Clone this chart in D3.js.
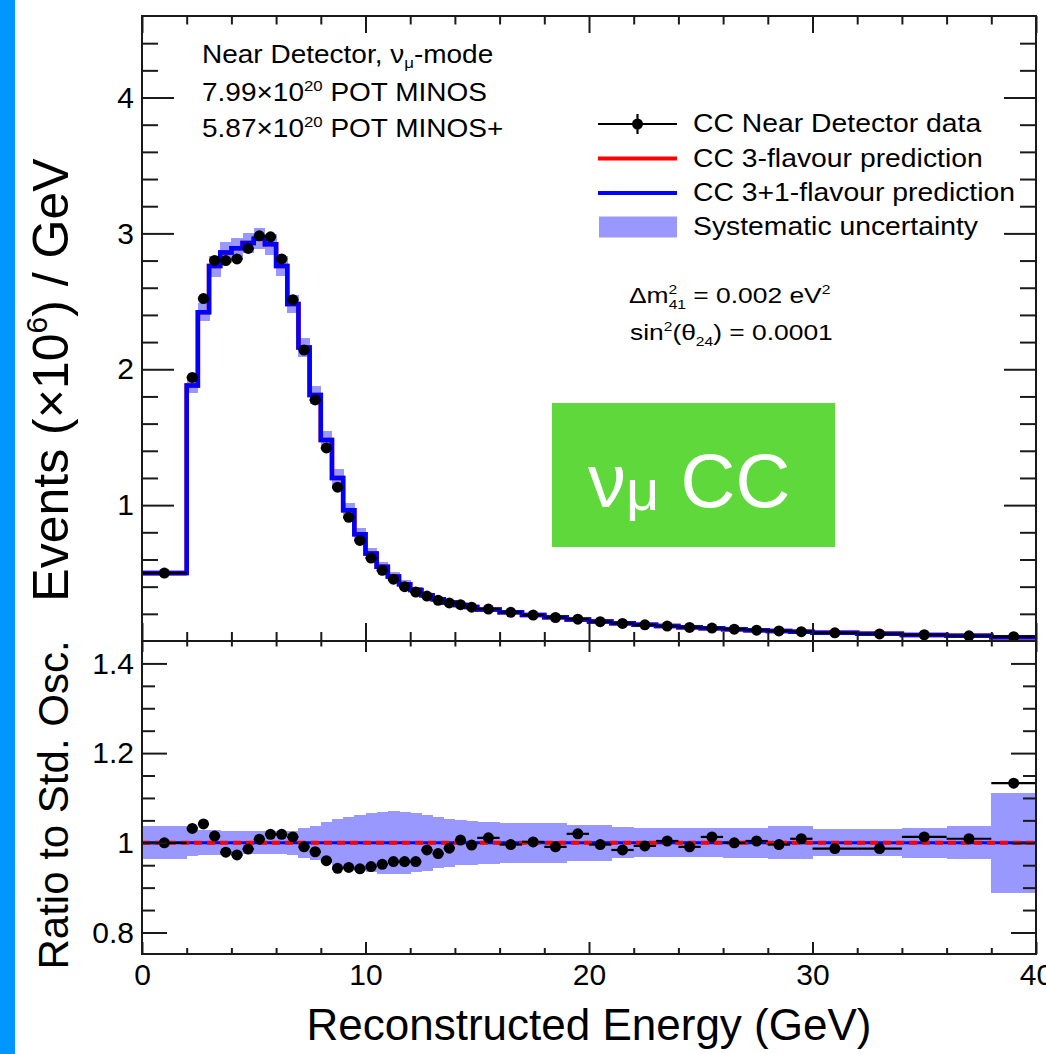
<!DOCTYPE html>
<html>
<head>
<meta charset="utf-8">
<script src="https://cdn.jsdelivr.net/npm/d3@7"></script>
<style>
  body { margin: 0; background: #fff }
  svg { display: block }
  text { font-family: "Liberation Sans", Arial, Helvetica, sans-serif; fill: #000 }
</style>
</head>
<body>
<svg id="chart" width="1046" height="1054"></svg>
<script>
// Bin edges in GeV (variable binning)
const binEdges = [0, 2, 2.5, 3, 3.5, 4, 4.5, 5, 5.5, 6, 6.5, 7, 7.5, 8, 8.5, 9, 9.5, 10,
  10.5, 11, 11.5, 12, 12.5, 13, 13.5, 14, 14.5, 15, 16, 17, 18, 19, 20, 21, 22, 23, 24,
  25, 26, 27, 28, 29, 30, 32, 34, 36, 38, 40]

// Events (x10^6) / GeV, 3-flavour and 3+1 predictions (overlapping)
const predicted = [0.50, 1.88, 2.42, 2.76, 2.86, 2.89, 2.93, 2.96, 2.92, 2.76, 2.48, 2.16,
  1.81, 1.48, 1.20, 0.963, 0.786, 0.644, 0.546, 0.475, 0.418, 0.376, 0.336, 0.307, 0.284,
  0.265, 0.250, 0.232, 0.212, 0.191, 0.175, 0.158, 0.143, 0.131, 0.120, 0.110, 0.101,
  0.094, 0.087, 0.080, 0.074, 0.068, 0.061, 0.053, 0.045, 0.038, 0.028]

// Near Detector data, events (x10^6) / GeV
const dataEvents = [0.500, 1.940, 2.520, 2.801, 2.800, 2.812, 2.889, 2.982, 2.975, 2.812,
  2.512, 2.141, 1.774, 1.421, 1.132, 0.910, 0.740, 0.610, 0.520, 0.455, 0.400, 0.360,
  0.331, 0.300, 0.280, 0.267, 0.249, 0.235, 0.211, 0.191, 0.173, 0.161, 0.142, 0.129,
  0.119, 0.110, 0.100, 0.095, 0.087, 0.080, 0.074, 0.069, 0.060, 0.052, 0.046, 0.038, 0.032]

// Data / 3-flavour prediction (lower panel)
const ratioToStd = [1.000, 1.032, 1.042, 1.015, 0.979, 0.973, 0.986, 1.008, 1.019, 1.019,
  1.013, 0.991, 0.980, 0.960, 0.943, 0.945, 0.942, 0.947, 0.952, 0.958, 0.958, 0.958,
  0.984, 0.976, 0.988, 1.006, 0.995, 1.011, 0.996, 1.002, 0.991, 1.020, 0.996, 0.984,
  0.993, 1.004, 0.991, 1.013, 1.000, 1.004, 0.996, 1.009, 0.987, 0.987, 1.013, 1.009, 1.133]

// Relative systematic uncertainty (half width of the band)
const systFraction = [0.037, 0.0285, 0.028, 0.028, 0.027, 0.026, 0.026, 0.026, 0.026, 0.026,
  0.027, 0.033, 0.038, 0.046, 0.053, 0.058, 0.062, 0.066, 0.069, 0.070, 0.0685, 0.0655,
  0.062, 0.057, 0.053, 0.050, 0.049, 0.047, 0.045, 0.044, 0.044, 0.040, 0.040, 0.035,
  0.032, 0.032, 0.032, 0.032, 0.034, 0.034, 0.037, 0.037, 0.030, 0.030, 0.033, 0.037, 0.111]

const xMajorTicks = [0, 10, 20, 30, 40]
const yTopMajorTicks = [1, 2, 3, 4]
const yRatioMajorTicks = [0.8, 1, 1.2, 1.4]

const legendLabels = ['CC Near Detector data', 'CC 3-flavour prediction',
  'CC 3+1-flavour prediction', 'Systematic uncertainty']

const colors = { data: '#000', std: '#ff0000', sterile: '#0000ff', band: '#9898ff', axis: '#1a1a1a' }
const frame = { left: 142, right: 1036, top: 16, mid: 641, bottom: 954 }

const svg = d3.select('#chart')

const x = d3.scaleLinear().domain([0, 40]).range([frame.left, frame.right])
const yTop = d3.scaleLinear().domain([0, 4.6]).range([frame.mid, frame.top])
const yRat = d3.scaleLinear().domain([0.752, 1.45]).range([frame.bottom, frame.mid])

const bins = predicted.map((p, i) => ({
  x0: binEdges[i],
  x1: binEdges[i + 1],
  pred: p,
  data: dataEvents[i],
  ratio: ratioToStd[i],
  syst: systFraction[i]
}))

// blue strip on the left edge of the slide
svg.append('rect').attr('x', 0).attr('y', 0).attr('width', 15).attr('height', 1054).attr('fill', '#0096ff')

// clip paths for both pads
const defs = svg.append('defs')
defs.append('clipPath').attr('id', 'clipTop').append('rect')
  .attr('x', frame.left).attr('y', frame.top)
  .attr('width', frame.right - frame.left).attr('height', frame.mid - frame.top)
defs.append('clipPath').attr('id', 'clipRat').append('rect')
  .attr('x', frame.left).attr('y', frame.mid)
  .attr('width', frame.right - frame.left).attr('height', frame.bottom - frame.mid)

function stepLine (yScale, accessor) {
  const pts = bins.map(b => [b.x0, accessor(b)])
  pts.push([bins[bins.length - 1].x1, accessor(bins[bins.length - 1])])
  return d3.line()
    .x(d => x(d[0]))
    .y(d => yScale(d[1]))
    .curve(d3.curveStepAfter)(pts)
}

function drawBand (g, yScale, lo, hi) {
  g.selectAll('rect.band')
    .data(bins)
    .enter()
    .append('rect')
    .attr('class', 'band')
    .attr('x', d => x(d.x0))
    .attr('width', d => x(d.x1) - x(d.x0) + 0.5)
    .attr('y', d => yScale(hi(d)))
    .attr('height', d => yScale(lo(d)) - yScale(hi(d)))
    .attr('fill', colors.band)
    .attr('shape-rendering', 'crispEdges')
}

function drawPoints (g, yScale, accessor) {
  const pts = g.selectAll('g.pt')
    .data(bins)
    .enter()
    .append('g')
    .attr('class', 'pt')
  pts.append('line')
    .attr('x1', d => x(d.x0))
    .attr('x2', d => x(d.x1))
    .attr('y1', d => yScale(accessor(d)))
    .attr('y2', d => yScale(accessor(d)))
    .attr('stroke', colors.data)
    .attr('stroke-width', 2.2)
  pts.append('circle')
    .attr('cx', d => x((d.x0 + d.x1) / 2))
    .attr('cy', d => yScale(accessor(d)))
    .attr('r', 5.5)
    .attr('fill', colors.data)
}

// ---- top pad
const topPad = svg.append('g').attr('clip-path', 'url(#clipTop)')
drawBand(topPad, yTop, d => d.pred * (1 - d.syst), d => d.pred * (1 + d.syst))
topPad.append('path')
  .attr('d', stepLine(yTop, d => d.pred))
  .attr('fill', 'none').attr('stroke', colors.std).attr('stroke-width', 4.5)
topPad.append('path')
  .attr('d', stepLine(yTop, d => d.pred))
  .attr('fill', 'none').attr('stroke', colors.sterile).attr('stroke-width', 4.5)
drawPoints(topPad, yTop, d => d.data)

// ---- ratio pad
const ratPad = svg.append('g').attr('clip-path', 'url(#clipRat)')
drawBand(ratPad, yRat, d => 1 - d.syst, d => 1 + d.syst)
ratPad.append('path')
  .attr('d', stepLine(yRat, d => d.pred / d.pred))
  .attr('fill', 'none').attr('stroke', colors.sterile).attr('stroke-width', 3)
ratPad.append('path')
  .attr('d', stepLine(yRat, d => d.pred / d.pred))
  .attr('fill', 'none').attr('stroke', colors.std).attr('stroke-width', 4)
  .attr('stroke-dasharray', '8,5')
drawPoints(ratPad, yRat, d => d.ratio)

// ---- frames and ticks
svg.append('rect')
  .attr('x', frame.left).attr('y', frame.top)
  .attr('width', frame.right - frame.left).attr('height', frame.bottom - frame.top)
  .attr('fill', 'none').attr('stroke', colors.axis).attr('stroke-width', 2)
svg.append('line')
  .attr('x1', frame.left).attr('x2', frame.right)
  .attr('y1', frame.mid).attr('y2', frame.mid)
  .attr('stroke', colors.axis).attr('stroke-width', 2)

function styleAxis (g) {
  g.select('.domain').remove()
  g.selectAll('.tick line').attr('stroke', colors.axis).attr('stroke-width', 2)
  g.selectAll('.tick text')
    .attr('font-size', 30)
    .attr('font-family', '"Liberation Sans", Arial, Helvetica, sans-serif')
    .attr('fill', '#000')
}

function addAxis (axis, tx, ty) {
  svg.append('g')
    .attr('transform', `translate(${tx},${ty})`)
    .call(axis)
    .call(styleAxis)
}

const xMinor = d3.range(2, 40, 2).filter(v => v % 10 !== 0)
const yTopMinor = d3.range(1, 23).filter(i => i % 5 !== 0).map(i => i / 5)
const yRatMinor = d3.range(16, 29).filter(i => i % 4 !== 0).map(i => i / 20)
const noLabel = () => ''

// top pad
addAxis(d3.axisLeft(yTop).tickValues(yTopMajorTicks).tickSize(-32).tickPadding(8).tickFormat(d3.format('d')), frame.left, 0)
addAxis(d3.axisLeft(yTop).tickValues(yTopMinor).tickSize(-16).tickFormat(noLabel), frame.left, 0)
addAxis(d3.axisRight(yTop).tickValues(yTopMajorTicks).tickSize(-32).tickFormat(noLabel), frame.right, 0)
addAxis(d3.axisRight(yTop).tickValues(yTopMinor).tickSize(-16).tickFormat(noLabel), frame.right, 0)
addAxis(d3.axisTop(x).tickValues(xMajorTicks).tickSize(-17).tickFormat(noLabel), 0, frame.top)
addAxis(d3.axisTop(x).tickValues(xMinor).tickSize(-8.5).tickFormat(noLabel), 0, frame.top)
addAxis(d3.axisBottom(x).tickValues(xMajorTicks).tickSize(-18).tickFormat(noLabel), 0, frame.mid)
addAxis(d3.axisBottom(x).tickValues(xMinor).tickSize(-9).tickFormat(noLabel), 0, frame.mid)

// ratio pad
const ratioFormat = d => (d === 1 ? '1' : d.toFixed(1))
addAxis(d3.axisLeft(yRat).tickValues(yRatioMajorTicks).tickSize(-25).tickPadding(8).tickFormat(ratioFormat), frame.left, 0)
addAxis(d3.axisLeft(yRat).tickValues(yRatMinor).tickSize(-13).tickFormat(noLabel), frame.left, 0)
addAxis(d3.axisRight(yRat).tickValues(yRatioMajorTicks).tickSize(-25).tickFormat(noLabel), frame.right, 0)
addAxis(d3.axisRight(yRat).tickValues(yRatMinor).tickSize(-13).tickFormat(noLabel), frame.right, 0)
addAxis(d3.axisTop(x).tickValues(xMajorTicks).tickSize(-11).tickFormat(noLabel), 0, frame.mid)
addAxis(d3.axisTop(x).tickValues(xMinor).tickSize(-5.5).tickFormat(noLabel), 0, frame.mid)
addAxis(d3.axisBottom(x).tickValues(xMajorTicks).tickSize(-12).tickPadding(10).tickFormat(d3.format('d')), 0, frame.bottom)
addAxis(d3.axisBottom(x).tickValues(xMinor).tickSize(-6).tickFormat(noLabel), 0, frame.bottom)

// ---- axis titles
svg.append('text')
  .attr('x', (frame.left + frame.right) / 2).attr('y', 1040)
  .attr('text-anchor', 'middle').attr('font-size', 44)
  .text('Reconstructed Energy (GeV)')

const yTitle = svg.append('text')
  .attr('transform', 'translate(68,380) rotate(-90)')
  .attr('text-anchor', 'middle').attr('font-size', 50)
yTitle.append('tspan').text('Events (×10')
yTitle.append('tspan').attr('font-size', 30).attr('dy', -21).text('6')
yTitle.append('tspan').attr('dy', 21).text(') / GeV')

svg.append('text')
  .attr('transform', 'translate(68,805) rotate(-90)')
  .attr('text-anchor', 'middle').attr('font-size', 42)
  .text('Ratio to Std. Osc.')

// ---- text blocks (slightly stretched horizontally like the original)
function textBlock (tx, ty, sx, size) {
  return svg.append('g')
    .attr('transform', `translate(${tx},${ty}) scale(${sx},1)`)
    .append('text')
    .attr('font-size', size)
}

const info1 = textBlock(202, 63, 1.12, 25)
info1.append('tspan').text('Near Detector, ν')
info1.append('tspan').attr('font-size', 15).attr('dy', 5).text('μ')
info1.append('tspan').attr('dy', -5).text('-mode')

const potLines = [['7.99', ' POT MINOS', 101], ['5.87', ' POT MINOS+', 137]]
potLines.forEach(([mant, tail, ty]) => {
  const t = textBlock(202, ty, 1.12, 25)
  t.append('tspan').text(mant + '×10')
  t.append('tspan').attr('font-size', 15).attr('dy', -10).text('20')
  t.append('tspan').attr('dy', 10).text(tail)
})

// legend
const legendY = [124, 158.5, 193, 227]
const legend = svg.append('g')
legendLabels.forEach((label, i) => {
  const cy = legendY[i]
  if (i === 0) {
    legend.append('line').attr('x1', 598).attr('x2', 677).attr('y1', cy).attr('y2', cy)
      .attr('stroke', colors.data).attr('stroke-width', 2.2)
    legend.append('line').attr('x1', 637.5).attr('x2', 637.5).attr('y1', cy - 10).attr('y2', cy + 10)
      .attr('stroke', colors.data).attr('stroke-width', 2.2)
    legend.append('circle').attr('cx', 637.5).attr('cy', cy).attr('r', 5.5).attr('fill', colors.data)
  } else if (i < 3) {
    legend.append('line').attr('x1', 598).attr('x2', 677).attr('y1', cy).attr('y2', cy)
      .attr('stroke', i === 1 ? colors.std : colors.sterile).attr('stroke-width', 4)
  } else {
    legend.append('rect').attr('x', 599).attr('y', cy - 10.5).attr('width', 78).attr('height', 21)
      .attr('fill', colors.band)
  }
  textBlock(693, cy + 8, 1.09, 26).text(label)
})

// oscillation parameters
const par1 = textBlock(629, 303, 1.2, 22)
par1.append('tspan').text('Δm')
par1.append('tspan').attr('font-size', 13).attr('dy', -9).text('2')
par1.append('tspan').attr('font-size', 13).attr('dx', -7.2).attr('dy', 15).text('41')
par1.append('tspan').attr('dy', -6).text(' = 0.002 eV')
par1.append('tspan').attr('font-size', 13).attr('dy', -9).text('2')

const par2 = textBlock(630, 340, 1.2, 22)
par2.append('tspan').text('sin')
par2.append('tspan').attr('font-size', 13).attr('dy', -9).text('2')
par2.append('tspan').attr('dy', 9).text('(θ')
par2.append('tspan').attr('font-size', 13).attr('dy', 6).text('24')
par2.append('tspan').attr('dy', -6).text(') = 0.0001')

// green label box
svg.append('rect').attr('x', 552).attr('y', 403).attr('width', 283).attr('height', 144).attr('fill', '#5ed83a')
const badge = svg.append('text').attr('x', 588).attr('y', 507).attr('font-size', 76).style('fill', '#fff')
badge.append('tspan').text('ν')
badge.append('tspan').attr('font-size', 58).attr('dy', 3).text('μ')
badge.append('tspan').attr('dy', -3).text(' CC')
</script>
</body>
</html>
